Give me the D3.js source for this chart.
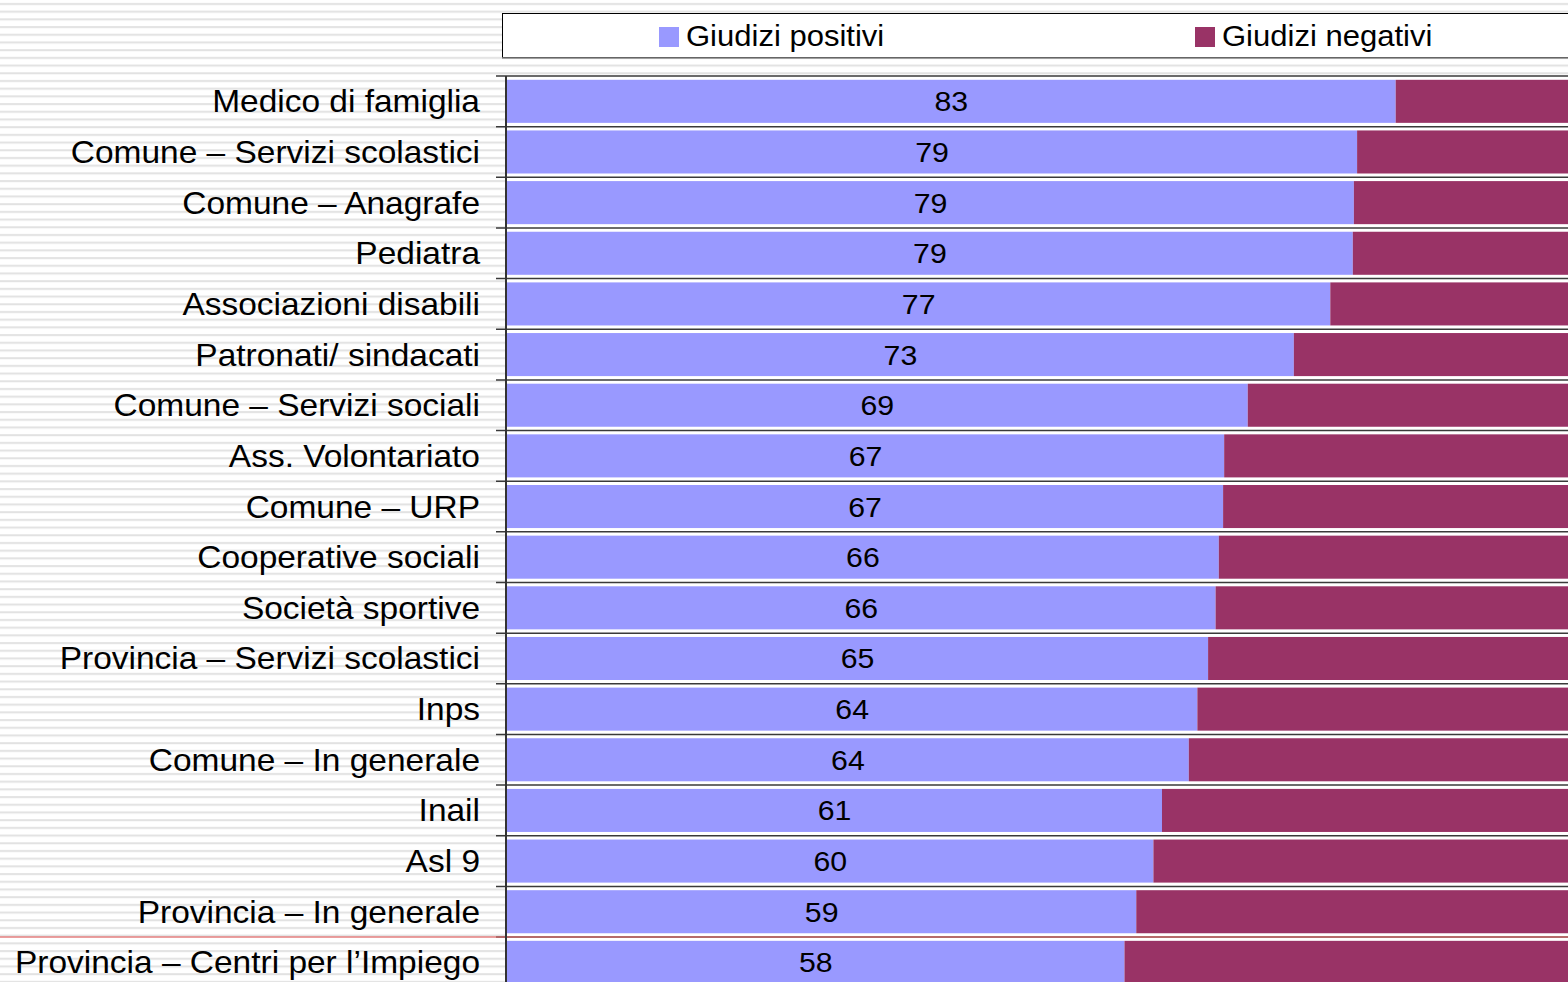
<!DOCTYPE html>
<html>
<head>
<meta charset="utf-8">
<script src="https://cdn.jsdelivr.net/npm/d3@7"></script>
<style>
  html, body { margin: 0; padding: 0; background: #fff; overflow: hidden; }
  svg { display: block; font-family: "Liberation Sans", Arial, sans-serif; }
</style>
</head>
<body>
<svg id="chart"></svg>
<script>
const categories = [
  'Medico di famiglia',
  'Comune \u2013 Servizi scolastici',
  'Comune \u2013 Anagrafe',
  'Pediatra',
  'Associazioni disabili',
  'Patronati/ sindacati',
  'Comune \u2013 Servizi sociali',
  'Ass. Volontariato',
  'Comune \u2013 URP',
  'Cooperative sociali',
  'Societ\u00e0 sportive',
  'Provincia \u2013 Servizi scolastici',
  'Inps',
  'Comune \u2013 In generale',
  'Inail',
  'Asl 9',
  'Provincia \u2013 In generale',
  'Provincia \u2013 Centri per l\u2019Impiego'
];
const positivi = [82.9, 79.3, 79.0, 78.9, 76.8, 73.4, 69.1, 66.9, 66.8, 66.4, 66.1, 65.4, 64.4, 63.6, 61.1, 60.3, 58.7, 57.6];
const negativi = [17.1, 20.7, 21.0, 21.1, 23.2, 26.6, 30.9, 33.1, 33.2, 33.6, 33.9, 34.6, 35.6, 36.4, 38.9, 39.7, 41.3, 42.4];
const seriesNames = ['Giudizi positivi', 'Giudizi negativi'];
const colors = ['#9999ff', '#993366'];

const width = 1568, height = 982;
const stretch = 1.08; // text in the original is slightly wide
const svg = d3.select('#chart').attr('width', width).attr('height', height);

// striped slide background
const defs = svg.append('defs');
const pat = defs.append('pattern').attr('id', 'stripes')
  .attr('patternUnits', 'userSpaceOnUse').attr('width', 10).attr('height', 7.7);
pat.append('rect').attr('width', 10).attr('height', 7.7).attr('fill', '#fff');
pat.append('rect').attr('y', 3).attr('width', 10).attr('height', 2).attr('fill', '#e2e2e2');
svg.append('rect').attr('width', width).attr('height', height).attr('fill', 'url(#stripes)');

const plotTop = 76, rowH = 50.65;
const x = d3.scaleLinear().domain([0, 100]).range([507, 1579]);
const y = d3.scaleBand().domain(categories)
  .range([plotTop, plotTop + rowH * categories.length])
  .paddingInner(0.15).paddingOuter(0.075);

// plot background
svg.append('rect').attr('x', 507).attr('y', plotTop).attr('width', width - 507).attr('height', height - plotTop).attr('fill', '#fff');

const rows = categories.map((c, i) => ({ name: c, pos: positivi[i], neg: negativi[i] }));
const stack = d3.stack().keys(['pos', 'neg'])(rows);

const g = svg.append('g');
g.selectAll('g.series').data(stack).join('g')
  .attr('class', 'series')
  .attr('fill', (d, i) => colors[i])
  .selectAll('rect').data(d => d).join('rect')
  .attr('x', d => x(d[0]))
  .attr('y', d => y(d.data.name))
  .attr('width', d => x(d[1]) - x(d[0]))
  .attr('height', y.bandwidth());

// row separators / ticks
const step = y.step();
const bounds = d3.range(categories.length + 1).map(i => plotTop + i * step);
svg.append('g').selectAll('line').data(bounds).join('line')
  .attr('x1', 496).attr('x2', width)
  .attr('y1', d => d).attr('y2', d => d)
  .attr('stroke', '#3a3a3a').attr('stroke-width', 1.5);

// red decorative line
svg.append('line').attr('x1', 0).attr('x2', width).attr('y1', 937).attr('y2', 937)
  .attr('stroke', '#e06a6a').attr('stroke-width', 1.5).attr('opacity', 0.85);

// vertical axis
svg.append('line').attr('x1', 506).attr('x2', 506).attr('y1', plotTop).attr('y2', height)
  .attr('stroke', '#333').attr('stroke-width', 2);

// category labels
svg.append('g').selectAll('text').data(categories).join('text')
  .attr('transform', d => `translate(480,${y(d) + y.bandwidth() / 2 + 11}) scale(${stretch},1)`)
  .attr('text-anchor', 'end')
  .attr('font-size', 31)
  .attr('fill', '#000')
  .text(d => d);

// value labels
svg.append('g').selectAll('text').data(rows).join('text')
  .attr('transform', d => `translate(${(x(0) + x(d.pos)) / 2},${y(d.name) + y.bandwidth() / 2 + 10}) scale(${stretch},1)`)
  .attr('text-anchor', 'middle')
  .attr('font-size', 28)
  .attr('fill', '#000')
  .text(d => d3.format('.0f')(d.pos));

// legend
const lg = svg.append('g');
lg.append('rect').attr('x', 502.5).attr('y', 13.5).attr('width', 1100).attr('height', 44)
  .attr('fill', '#fff').attr('stroke', '#000').attr('stroke-width', 1);
lg.append('line').attr('x1', 502).attr('x2', width).attr('y1', 58).attr('y2', 58)
  .attr('stroke', '#888').attr('stroke-width', 1.5);
const legX = [659, 1195];
seriesNames.forEach((s, i) => {
  lg.append('rect').attr('x', legX[i]).attr('y', 27).attr('width', 20).attr('height', 20).attr('fill', colors[i]);
  lg.append('text')
    .attr('transform', `translate(${legX[i] + 27},46) scale(1.07,1)`)
    .attr('font-size', 29).attr('fill', '#000').text(s);
});
</script>
</body>
</html>
